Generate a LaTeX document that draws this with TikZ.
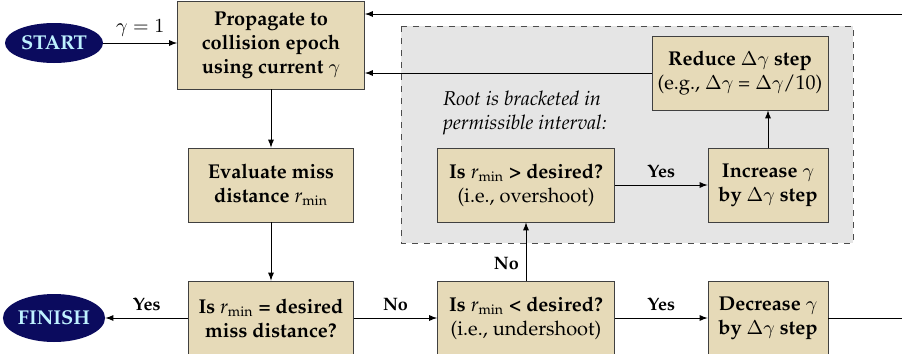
\documentclass[tikz,border=0pt]{standalone}
\usepackage[T1]{fontenc}
\usepackage{palatino}
\usetikzlibrary{shapes.geometric}

\definecolor{boxtan}{HTML}{E6DAB8}
\definecolor{navyfill}{HTML}{0B0B5E}
\definecolor{cyantext}{HTML}{BFF2FF}
\newcommand{\rmin}{{\mdseries\textit{r}}\textsubscript{\mdseries min}}

\begin{document}
\begin{tikzpicture}[x=0.5pt,y=-0.5pt,>=latex,
    box/.style={draw=black!75,fill=boxtan,align=center,font=\bfseries,
        inner sep=2pt,minimum height=37pt},
    term/.style={ellipse,fill=navyfill,text=cyantext,font=\bfseries,
        minimum width=49pt,minimum height=22pt,inner sep=0pt},
    lbl/.style={font=\small\bfseries}]
        \useasboundingbox (0,0) rectangle (902,354);
        \clip (0,0) rectangle (902,354);
        % bracketed region
        \draw[dashed,draw=black!70,fill=black!10] (401,26) rectangle (853,243);
        \node[align=left,anchor=west] () at (436,113) {\textit{Root is bracketed in}\\\textit{permissible interval:}};
        %\node[term] (start) at (55,43) {START};
        \node[term,minimum height=20pt] (start) at (54,43) {START};
        \node[term,minimum height=24pt] (finish) at (54,318) {FINISH};
        \node[box,minimum width=93.5pt,minimum height=44pt] (prop) at (271,45) {Propagate to\\collision epoch\\using current $\gamma$};
        \node[box,minimum width=82.5pt] (eval) at (271,185) {Evaluate miss\\distance \rmin};
        \node[box,minimum width=82.5pt] (equal) at (271,318) {Is \rmin{} = desired\\miss distance?};
        \node[box,minimum width=88.5pt] (under) at (526,318) {Is \rmin{} < desired?\\\mdseries(i.e., undershoot)};
        \node[box,minimum width=88.5pt] (over) at (526,185) {Is \rmin{} > desired?\\\mdseries(i.e., overshoot)};
        \node[box,minimum width=60pt] (dec) at (768,318) {Decrease $\gamma$\\by $\Delta\gamma$ step};
        \node[box,minimum width=60pt] (inc) at (768,185) {Increase $\gamma$\\by $\Delta\gamma$ step};
        \node[box,minimum width=88pt] (red) at (740,73) {Reduce $\Delta\gamma$ step\\\mdseries(e.g., $\Delta\gamma$ = $\Delta\gamma$/10)};
        \coordinate (loop) at (930,14);

        \draw[->] (start) -- node[above] {$\gamma=1$} (start -| prop.west);
        \draw[->] (prop) -- (eval);
        \draw[->] (eval) -- (equal);
        \draw[->] (equal) -- node[lbl,above] {Yes} (finish);
        \draw[->] (equal) -- node[lbl,above] {No} (under);
        \draw[->] (under) -- node[lbl,above] {Yes} (dec);
        \draw[->] (under) -- node[lbl,left,pos=0.3] {No} (over);
        \draw[->] (over) -- node[lbl,above] {Yes} (inc);
        \draw[->] (inc) -- (inc |- red.south);
        \draw[->] (red.west) -- (prop.east |- red.west);
        \draw[->] (dec.east) -| (loop) -- (prop.east |- loop);
    \end{tikzpicture}
\end{document}
